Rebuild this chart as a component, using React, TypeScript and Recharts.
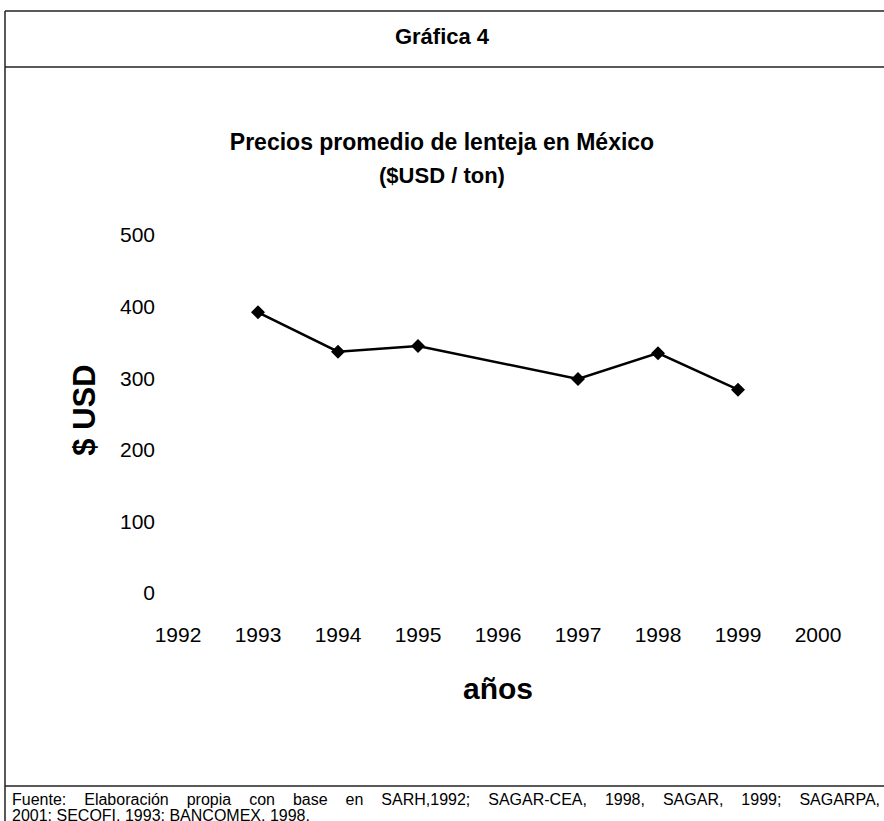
import React from 'react';
import { LineChart, Line, XAxis, YAxis } from 'recharts';

const years = [1992, 1993, 1994, 1995, 1996, 1997, 1998, 1999, 2000];
const prices: (number | null)[] = [null, 392, 337, 345, null, 299, 335, 284, null];
const yTicks = [0, 100, 200, 300, 400, 500];

const headerText = 'Gráfica 4';
const titleText = 'Precios promedio de lenteja en México';
const subtitleText = '($USD / ton)';
const xLabel = 'años';
const yLabel = '$ USD';
const sourceLine1 = 'Fuente: Elaboración propia con base en SARH,1992; SAGAR-CEA, 1998, SAGAR, 1999; SAGARPA,';
const sourceLine2 = '2001; SECOFI, 1993; BANCOMEX, 1998.';

const data = years.map((y, i) => ({ year: y, price: prices[i] }));

const FONT = "'Liberation Sans', Arial, Helvetica, sans-serif";

const Diamond = (props: any) => {
  const { cx, cy, value, index } = props;
  if (value == null || cx == null || cy == null) return <g key={`d-${index}`} />;
  const r = 7;
  return (
    <polygon
      key={`d-${index}`}
      points={`${cx},${cy - r} ${cx + r},${cy} ${cx},${cy + r} ${cx - r},${cy}`}
      fill="#000"
    />
  );
};

const centered = (top: number, size: number, bold: boolean, lh: number): React.CSSProperties => ({
  position: 'absolute',
  left: 0,
  width: 884,
  top,
  textAlign: 'center',
  fontSize: size,
  lineHeight: `${lh}px`,
  fontWeight: bold ? 'bold' : 'normal',
  fontFamily: FONT,
  color: '#000',
  whiteSpace: 'nowrap',
});

export default function App() {
  return (
    <div
      style={{
        position: 'absolute',
        left: 0,
        top: 0,
        width: 884,
        height: 821,
        background: '#fff',
        overflow: 'hidden',
        fontFamily: FONT,
      }}
    >
      <svg width={884} height={821} style={{ position: 'absolute', left: 0, top: 0 }}>
        <line x1={5} y1={11} x2={884} y2={11} stroke="#222" strokeWidth={1.5} />
        <line x1={5} y1={67} x2={884} y2={67} stroke="#222" strokeWidth={1.5} />
        <line x1={5} y1={786} x2={884} y2={786} stroke="#222" strokeWidth={1.5} />
        <line x1={5} y1={11} x2={5} y2={821} stroke="#222" strokeWidth={1.5} />
      </svg>

      <div style={centered(23, 22, true, 28)}>{headerText}</div>
      <div style={centered(127, 23, true, 30)}>{titleText}</div>
      <div style={centered(161, 22, true, 30)}>{subtitleText}</div>

      <div style={{ position: 'absolute', left: 0, top: 0 }}>
        <LineChart
          width={884}
          height={821}
          data={data}
          margin={{ top: 235, right: 66, bottom: 198, left: 78 }}
        >
          <XAxis
            dataKey="year"
            type="number"
            domain={[1992, 2000]}
            ticks={years}
            interval={0}
            axisLine={false}
            tickLine={false}
            tickSize={0}
            tickMargin={34}
            height={30}
            tick={{ fill: '#000', fontSize: 21, fontFamily: FONT }}
          />
          <YAxis
            type="number"
            domain={[0, 500]}
            ticks={yTicks}
            interval={0}
            width={100}
            axisLine={false}
            tickLine={false}
            tickSize={0}
            tickMargin={23}
            tick={{ fill: '#000', fontSize: 21, fontFamily: FONT }}
          />
          <Line
            type="linear"
            dataKey="price"
            stroke="#000"
            strokeWidth={2.5}
            connectNulls
            dot={Diamond}
            activeDot={false}
            isAnimationActive={false}
          />
        </LineChart>
      </div>

      <div
        style={{
          position: 'absolute',
          left: 85 - 100,
          top: 410 - 20,
          width: 200,
          height: 40,
          lineHeight: '40px',
          textAlign: 'center',
          fontSize: 31,
          fontWeight: 'bold',
          fontFamily: FONT,
          transform: 'rotate(-90deg)',
          whiteSpace: 'nowrap',
        }}
      >
        {yLabel}
      </div>

      <div style={{ ...centered(671, 30, true, 36), left: 498 - 442 }}>{xLabel}</div>

      <div
        style={{
          position: 'absolute',
          left: 12,
          top: 792,
          width: 868,
          fontSize: 16,
          lineHeight: '16px',
          fontFamily: FONT,
          textAlign: 'justify',
          textAlignLast: 'justify',
          whiteSpace: 'nowrap',
        }}
      >
        {sourceLine1}
      </div>
      <div
        style={{
          position: 'absolute',
          left: 12,
          top: 808,
          fontSize: 16,
          lineHeight: '16px',
          fontFamily: FONT,
          whiteSpace: 'nowrap',
        }}
      >
        {sourceLine2}
      </div>
    </div>
  );
}
